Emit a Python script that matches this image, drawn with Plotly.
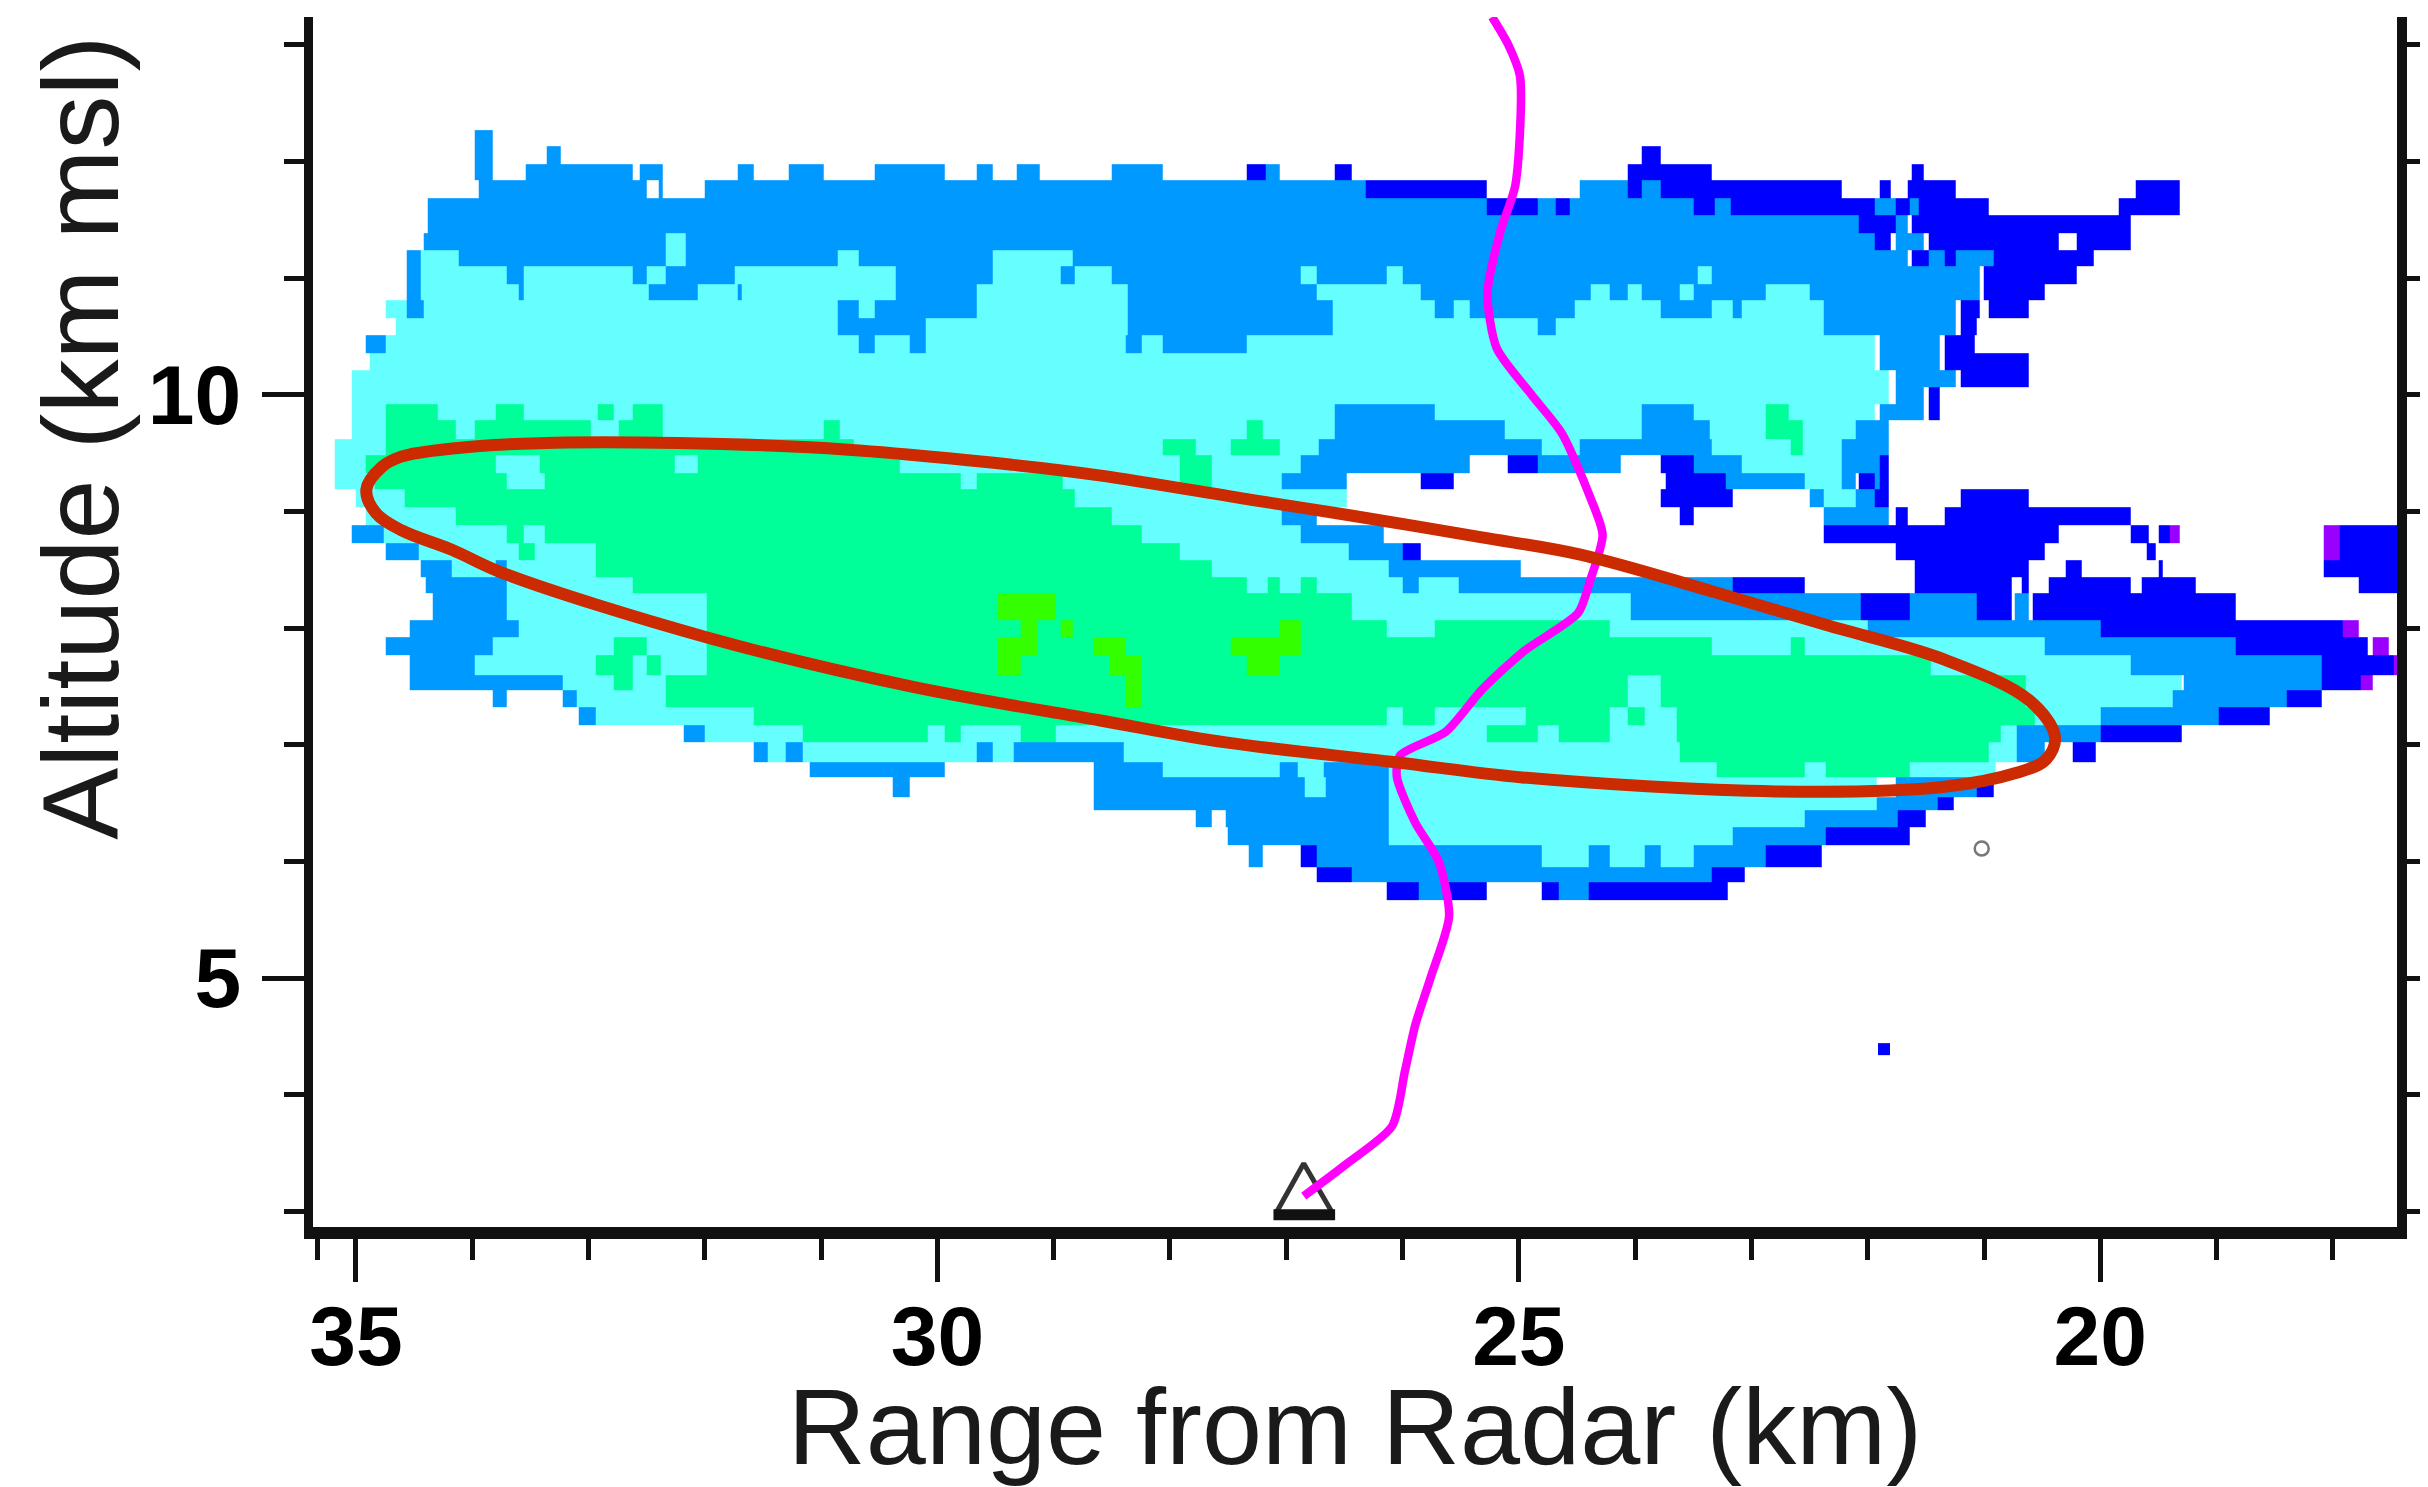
import numpy as np
import plotly.graph_objects as go

# Reflectivity classes
D, M, C, G, L, P = 1, 2, 3, 4, 5, 6
class_colors = ["#0000ff", "#0099ff", "#66ffff", "#00ff99", "#33ff00", "#9900ff"]

# Altitude edges of the radar rows (km msl), top to bottom
row_edges = [12.27, 12.13, 11.98, 11.84, 11.69, 11.54, 11.39, 11.24, 11.10, 10.95, 10.81, 10.66,
             10.51, 10.36, 10.21, 10.07, 9.92, 9.78, 9.62, 9.48, 9.33, 9.19, 9.04, 8.88, 8.73,
             8.58, 8.44, 8.30, 8.07, 7.92, 7.77, 7.60, 7.47, 7.32, 7.17, 7.02, 6.85, 6.72, 6.55,
             6.44, 6.29, 6.14, 5.95, 5.82, 5.67]

# For each row: (range start km, range end km, class); later spans overwrite earlier ones
row_spans = [
 [(33.97,33.82,M)],
 [(33.97,33.82,M),(33.36,33.24,M),(23.93,23.77,D)],
 [(33.97,33.82,M),(33.53,32.61,M),(32.55,32.35,M),(31.71,31.58,M),(31.28,30.97,M),(30.54,29.94,M),(29.65,29.51,M),(29.31,29.11,M),(28.50,28.06,M),(27.17,27.06,M),(27.33,27.17,D),(26.58,26.44,D),(24.05,23.33,D),(21.61,21.52,D)],
 [(33.93,32.50,M),(32.39,32.35,M),(32.00,26.31,M),(24.48,24.05,M),(23.93,23.77,M),(26.31,25.27,D),(24.05,23.93,D),(23.77,22.22,D),(21.89,21.80,D),(21.66,21.23,D),(19.69,19.32,D)],
 [(34.38,25.27,M),(24.83,24.67,M),(24.56,23.49,M),(23.32,23.18,M),(21.93,21.76,M),(21.64,21.55,M),(25.27,24.83,D),(24.67,24.56,D),(23.49,23.32,D),(23.18,21.93,D),(21.76,21.64,D),(21.55,20.95,D),(19.83,19.32,D)],
 [(34.37,22.07,M),(21.75,21.66,M),(22.07,21.75,D),(21.62,19.73,D)],
 [(34.41,21.93,M),(21.75,21.51,M),(21.93,21.79,D),(21.47,20.35,D),(20.20,19.73,D),(32.33,32.15,C)],
 [(34.56,21.66,M),(21.47,21.33,M),(21.23,20.91,M),(21.62,21.47,D),(21.33,21.23,D),(20.91,20.06,D),(34.43,34.12,C),(32.33,32.15,C),(30.86,30.68,C),(29.51,28.83,C)],
 [(34.56,21.04,M),(34.43,33.69,C),(33.56,32.61,C),(32.50,32.33,C),(31.74,30.36,C),(29.51,28.93,C),(28.82,28.50,C),(26.88,26.73,C),(26.14,26.00,C),(23.46,23.33,C),(21.00,20.20,D)],
 [(34.56,21.04,M),(34.43,33.60,C),(33.56,32.48,C),(32.05,31.71,C),(31.68,30.36,C),(29.65,28.35,C),(26.73,25.83,C),(24.37,24.21,C),(24.05,23.93,C),(23.62,23.49,C),(22.88,22.50,C),(21.00,20.48,D)],
 [(34.73,22.37,C),(34.56,34.41,M),(30.86,30.68,M),(30.53,29.65,M),(28.35,26.60,M),(25.71,25.55,M),(25.42,24.52,M),(23.77,23.33,M),(23.16,23.08,M),(22.37,21.23,M),(21.19,21.04,D),(20.96,20.61,D)],
 [(34.65,22.37,C),(30.86,30.09,M),(28.35,26.60,M),(24.83,24.67,M),(22.37,21.23,M),(21.19,21.06,D)],
 [(34.84,21.94,C),(34.92,34.73,M),(30.68,30.53,M),(30.24,30.09,M),(28.37,28.24,M),(28.05,27.33,M),(21.89,21.38,M),(21.33,21.08,D)],
 [(34.87,21.94,C),(21.89,21.38,M),(21.33,20.61,D)],
 [(35.03,21.81,C),(21.75,21.23,M),(21.19,20.61,D)],
 [(35.03,21.81,C),(21.75,21.52,M),(21.47,21.38,D)],
 [(35.03,21.93,C),(34.73,34.30,G),(33.80,33.56,G),(32.92,32.77,G),(32.61,32.35,G),(26.58,25.72,M),(23.93,23.49,M),(21.89,21.52,M),(21.47,21.38,D),(22.88,22.68,G)],
 [(35.03,22.07,C),(34.73,34.14,G),(33.97,32.97,G),(32.74,32.35,G),(30.97,30.84,G),(27.33,27.19,G),(22.88,22.55,G),(26.58,25.11,M),(23.93,23.36,M),(22.09,21.81,M)],
 [(35.17,22.22,C),(34.73,30.71,G),(28.06,27.78,G),(27.48,27.06,G),(22.66,22.55,G),(26.71,24.80,M),(24.48,23.33,M),(22.22,21.81,M)],
 [(35.17,26.88,C),(23.08,22.22,C),(34.91,33.80,G),(33.42,32.26,G),(32.05,30.31,G),(27.91,27.63,G),(26.88,25.42,M),(25.09,24.83,D),(24.83,24.11,M),(23.77,23.49,D),(23.49,23.08,M),(22.22,21.89,M),(21.89,21.81,D)],
 [(35.17,27.04,C),(34.83,33.69,G),(33.38,29.79,G),(29.65,28.91,G),(27.91,27.63,G),(27.04,26.47,M),(25.83,25.55,D),(23.73,23.21,D),(23.21,22.53,M),(22.53,22.22,C),(22.22,22.09,M),(22.07,21.94,D),(21.94,21.89,M),(21.89,21.81,D)],
 [(35.00,26.47,C),(34.58,28.82,G),(23.77,23.16,D),(22.50,22.37,M),(22.37,22.09,C),(22.09,21.94,M),(21.93,21.81,D),(21.19,20.61,D)],
 [(34.91,26.91,C),(34.14,28.50,G),(27.04,26.73,M),(23.62,23.49,D),(22.37,21.81,M),(21.75,21.66,D),(21.33,19.73,D)],
 [(34.76,26.88,C),(35.04,34.76,M),(33.69,33.56,G),(33.38,28.24,G),(26.88,26.16,M),(22.37,20.35,D),(19.73,19.58,D),(19.49,19.40,D),(19.40,19.32,P),(18.08,17.94,P),(17.94,17.41,D)],
 [(34.45,26.45,C),(34.73,34.45,M),(33.60,33.46,G),(32.94,27.91,G),(26.45,26.00,M),(26.00,25.83,D),(21.75,20.48,D),(19.60,19.52,D),(18.08,17.94,P),(17.94,17.41,D)],
 [(34.17,26.12,C),(34.43,34.17,M),(33.80,33.69,M),(32.94,27.63,G),(26.12,24.98,M),(21.60,20.61,D),(20.30,20.16,D),(19.50,19.46,D),(18.08,17.41,D)],
 [(33.69,25.52,C),(34.39,33.69,M),(32.61,27.34,G),(27.16,27.05,G),(26.88,26.73,G),(26.00,25.85,M),(25.52,23.15,M),(23.15,22.54,D),(21.60,20.76,D),(20.67,20.61,D),(20.44,19.73,D),(19.63,19.17,D),(17.77,17.41,D)],
 [(33.69,24.03,C),(34.34,33.69,M),(31.98,26.44,G),(29.47,28.98,L),(24.03,22.06,M),(22.06,21.63,D),(21.63,21.05,M),(21.05,20.76,D),(20.73,20.61,M),(20.58,18.83,D)],
 [(33.60,21.99,C),(34.54,33.60,M),(31.98,26.14,G),(25.71,24.21,G),(29.27,29.13,L),(28.94,28.83,L),(27.05,26.88,L),(21.99,19.99,M),(19.99,17.92,D),(17.92,17.77,P)],
 [(33.82,20.47,C),(34.73,33.82,M),(32.77,32.50,G),(31.98,23.34,G),(22.65,22.54,G),(29.47,29.13,L),(28.66,28.38,L),(27.48,26.88,L),(20.47,18.83,M),(18.83,17.70,D),(17.66,17.51,P)],
 [(33.97,19.74,C),(34.54,33.97,M),(32.94,32.61,G),(32.50,32.37,G),(31.98,21.45,G),(29.47,29.27,L),(28.51,28.23,L),(27.34,27.05,L),(19.74,18.10,M),(18.10,17.48,D),(17.48,17.41,P)],
 [(33.22,19.30,C),(34.54,33.22,M),(32.77,32.61,G),(32.33,24.06,G),(23.77,20.63,G),(28.37,28.23,L),(19.27,18.10,M),(18.10,17.76,D),(17.76,17.66,P)],
 [(33.09,19.38,C),(33.82,33.69,M),(33.22,33.09,M),(32.33,24.06,G),(23.77,20.63,G),(28.37,28.23,L),(19.38,18.39,M),(18.39,18.10,D)],
 [(32.94,19.99,C),(33.07,32.94,M),(31.58,26.14,G),(25.99,25.71,G),(24.94,24.21,G),(24.06,23.92,G),(23.64,20.55,G),(19.99,18.97,M),(18.97,18.54,D)],
 [(32.00,20.72,C),(32.18,32.00,M),(31.15,30.07,G),(29.93,29.79,G),(29.27,28.98,G),(25.27,24.84,G),(24.65,24.21,G),(23.64,20.86,G),(20.72,19.99,M),(19.99,19.30,D)],
 [(31.58,20.72,C),(31.58,31.45,M),(31.30,31.15,M),(29.65,29.51,M),(29.33,28.40,M),(23.61,20.96,G),(20.72,20.47,M),(20.24,20.03,D)],
 [(28.06,20.89,C),(31.10,29.94,M),(28.65,28.06,M),(27.05,26.90,M),(26.68,26.11,M),(23.30,22.54,G),(22.36,21.63,G)],
 [(30.38,30.24,M),(28.66,26.83,M),(26.83,26.65,C),(26.65,26.11,M),(26.11,21.92,C),(21.75,21.05,M),(21.05,20.91,D)],
 [(28.65,26.11,M),(26.11,21.92,C),(21.92,21.40,M),(21.40,21.26,D)],
 [(27.78,27.63,M),(27.52,26.00,M),(26.11,22.54,C),(22.54,21.74,M),(21.74,21.49,D)],
 [(27.49,26.00,M),(26.11,23.15,C),(23.15,22.36,M),(22.36,21.64,D)],
 [(27.31,27.20,M),(26.87,26.73,D),(26.73,25.64,M),(25.64,24.79,M),(24.79,24.39,C),(24.39,24.21,M),(24.21,23.92,C),(23.92,23.77,M),(23.77,23.49,C),(23.49,22.87,M),(22.87,22.39,D)],
 [(26.73,26.43,D),(26.43,23.34,M),(23.34,23.05,D)],
 [(26.14,25.85,D),(25.85,25.59,M),(25.59,25.27,D),(24.79,24.65,D),(24.65,24.39,M),(24.39,23.20,D)],
]

# Magenta trajectory
traj_range = [25.23, 25.09, 24.99, 25.03, 25.16, 25.27, 25.19, 24.89, 24.63, 24.39, 24.28, 24.39, 24.49,
              24.96, 25.32, 25.63, 26.02, 26.05, 25.89, 25.69, 25.60, 25.76, 25.89, 25.98, 26.09, 26.49, 26.85]
traj_alt = [13.24, 13.0, 12.73, 11.8, 11.4, 10.87, 10.4, 10.0, 9.67, 9.13, 8.8, 8.4, 8.13,
            7.8, 7.47, 7.11, 6.91, 6.73, 6.33, 6.0, 5.53, 5.0, 4.6, 4.2, 3.73, 3.4, 3.13]

# Red outline
outline_range = [34.91, 34.78, 34.61, 34.17, 33.29, 31.10, 29.35, 28.61, 27.30, 26.47, 25.33, 24.47, 23.32, 22.37,
                 21.34, 20.61, 20.39, 20.47, 20.72, 21.34, 22.79, 24.97, 26.06, 27.52, 28.61, 30.23, 31.98,
                 33.73, 34.17, 34.61, 34.83, 34.91]
outline_alt = [9.19, 9.38, 9.47, 9.54, 9.59, 9.55, 9.40, 9.31, 9.10, 8.97, 8.78, 8.63, 8.31, 8.03,
               7.73, 7.38, 7.07, 6.87, 6.76, 6.64, 6.60, 6.72, 6.85, 7.02, 7.21, 7.50, 7.92,
               8.47, 8.67, 8.84, 8.99, 9.19]

# Radar site triangle
site_range = [27.09, 26.85, 26.60, 27.09]
site_alt = [2.98, 3.41, 2.98, 2.98]
site_base_range = [27.11, 26.58]
site_base_alt = [2.97, 2.97]

open_dot = (21.02, 6.11)
blue_dot = (21.86, 4.39)

x_major = [35, 30, 25, 20]
x_minor = [35.33, 34, 33, 32, 31, 29, 28, 27, 26, 24, 23, 22, 21, 19, 18]
y_major = [5, 10]
y_minor = [3, 4, 6, 7, 8, 9, 11, 12, 13]
y_right = [3, 4, 5, 6, 7, 8, 9, 10, 11, 12, 13]

# Build the class grid
col_edges = np.arange(17.40, 35.40, 0.02)
col_centers = (col_edges[:-1] + col_edges[1:]) / 2
z = np.full((len(row_spans), len(col_centers)), np.nan)
for r, spans in enumerate(row_spans):
    for a, b, cls in spans:
        lo, hi = min(a, b), max(a, b)
        z[r, (col_centers >= lo) & (col_centers < hi)] = cls

n = len(class_colors)
colorscale = []
for i, c in enumerate(class_colors):
    colorscale += [[i / n, c], [(i + 1) / n, c]]

fig = go.Figure()
fig.add_trace(go.Heatmap(x=col_edges, y=row_edges, z=z, zmin=0.5, zmax=6.5, colorscale=colorscale,
                         showscale=False, hoverinfo="skip", zsmooth=False))
fig.add_trace(go.Scatter(x=site_range, y=site_alt, mode="lines", line=dict(color="#333333", width=5)))
fig.add_trace(go.Scatter(x=site_base_range, y=site_base_alt, mode="lines", line=dict(color="#111111", width=11)))
fig.add_trace(go.Scatter(x=[open_dot[0]], y=[open_dot[1]], mode="markers",
                         marker=dict(symbol="circle-open", size=14, color="#777777",
                                     line=dict(width=2.5, color="#777777"))))
fig.add_trace(go.Scatter(x=[blue_dot[0]], y=[blue_dot[1]], mode="markers",
                         marker=dict(symbol="square", size=12, color="#0000ff")))
fig.add_trace(go.Scatter(x=traj_range, y=traj_alt, mode="lines",
                         line=dict(color="#ff00ff", width=8.5, shape="spline", smoothing=0.7)))
fig.add_trace(go.Scatter(x=outline_range, y=outline_alt, mode="lines",
                         line=dict(color="#cc2a00", width=12, shape="spline", smoothing=1.0)))
fig.add_trace(go.Scatter(x=[26], y=[8], yaxis="y2", mode="markers", marker=dict(opacity=0), hoverinfo="skip"))

tick_font = dict(family="Liberation Sans", size=84, weight="bold", color="#000000")
title_font = dict(family="Liberation Sans", size=108, color="#1a1a1a")

fig.update_layout(
    width=2420, height=1479, autosize=False, showlegend=False,
    paper_bgcolor="white", plot_bgcolor="white",
    margin=dict(l=305, r=23, t=9, b=260, pad=0),
    xaxis=dict(range=[35.369, 17.449], showgrid=False, zeroline=False, showline=True, linecolor="#111111",
               linewidth=12, ticks="outside", tickmode="array", tickvals=x_major,
               ticktext=[str(v) for v in x_major], ticklen=43, tickwidth=5, tickcolor="#111111",
               tickfont=tick_font, ticklabelstandoff=-18,
               title=dict(text="Range from Radar (km)", font=title_font, standoff=8),
               minor=dict(tickmode="array", tickvals=x_minor, ticks="outside", ticklen=21, tickwidth=5,
                          tickcolor="#111111", showgrid=False)),
    yaxis=dict(range=[2.865, 13.24], showgrid=False, zeroline=False, showline=True, linecolor="#111111",
               linewidth=9, ticks="outside", tickmode="array", tickvals=y_major,
               ticktext=[str(v) for v in y_major], ticklen=42, tickwidth=5, tickcolor="#111111",
               tickfont=tick_font, ticklabelstandoff=4,
               minor=dict(tickmode="array", tickvals=y_minor, ticks="outside", ticklen=20, tickwidth=5,
                          tickcolor="#111111", showgrid=False)),
    yaxis2=dict(range=[2.865, 13.24], overlaying="y", side="right", anchor="x", showgrid=False, zeroline=False,
                showline=True, linecolor="#111111", linewidth=10, ticks="outside", tickmode="array",
                tickvals=y_right, ticktext=["" for _ in y_right], ticklen=22, tickwidth=5, tickcolor="#111111"),
    annotations=[dict(text="Altitude (km msl)", xref="paper", yref="paper", x=-0.112, y=0.652,
                      xanchor="center", yanchor="middle", textangle=-90, showarrow=False, font=title_font)],
)

fig.write_html("out.html")
